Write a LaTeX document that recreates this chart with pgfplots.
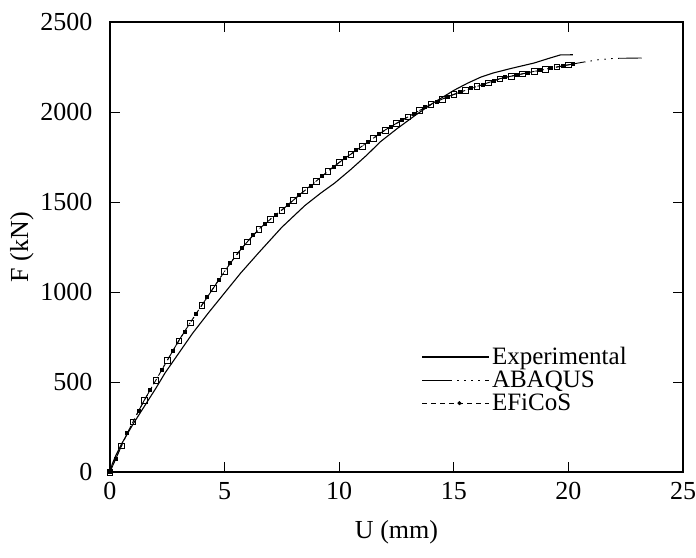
\documentclass[border=0pt]{standalone}
\usepackage{pgfplots}
\pgfplotsset{compat=1.18}
\usepackage{fontspec}
\setmainfont{Liberation Serif}
\begin{document}
\begin{tikzpicture}
\begin{axis}[
  name=ax,
  scale only axis, width=573pt, height=450pt,
  xmin=0, xmax=25, ymin=0, ymax=2500,
  xtick={0,5,...,25}, ytick={0,500,...,2500},
  tick align=inside, major tick length=10pt,
  tick style={line width=0.9pt, black},
  /pgf/number format/assume math mode=true,
  /pgf/number format/set thousands separator={},
  ticklabel style={font=\fontsize{26}{30}\selectfont},
  xticklabel style={yshift=-7pt},
  yticklabel style={xshift=-14pt},
  label style={font=\fontsize{26}{30}\selectfont},
  xlabel={U (mm)}, ylabel={F (kN)},
  xlabel style={yshift=-14pt},
  ylabel style={yshift=0pt},
  axis line style={line width=1.1pt},
  clip=false,
  legend style={draw=none, fill=none, inner sep=0pt, at={(axis cs:13.6,511)}, anchor=west,
    font=\fontsize{25}{30}\selectfont, legend cell align=left, row sep=5pt,
    nodes={inner xsep=2pt, inner ysep=0pt}},
  legend image code/.code={\draw[#1] (0pt,0pt) -- (67pt,0pt);},
]
\addplot[black, line width=1.1pt] coordinates {
(0,0) (0.1,45) (0.23,85) (0.5,155) (1,265) (1.5,365) (2,465) (2.4,550) (3,660) (3.6,770)
(4.3,885) (5,995) (5.7,1105) (6.5,1220) (7.5,1360) (8.5,1480) (9.2,1550) (9.8,1605)
(10.5,1680) (11.2,1760) (11.8,1835) (12.5,1905) (13.3,1980) (14.1,2050) (15,2120)
(15.6,2160) (16.2,2195) (16.7,2216) (17.5,2242) (18.5,2272) (19.2,2300) (19.65,2317) (20.2,2318)};
\addlegendentry{Experimental}
\addplot[black, line width=0.9pt,
  dash pattern=on 30pt off 5pt on 1.5pt off 5.5pt on 1.5pt off 5.5pt on 1.5pt off 5.5pt on 1.5pt off 5.5pt,
  mark=square, mark size=2.8pt, mark options={solid, line width=0.6pt}, mark indices={1,...,41},
  legend image code/.code={\draw[black, line width=0.9pt, dash pattern=on 30pt off 5pt on 1.5pt off 5.5pt on 1.5pt off 5.5pt on 1.5pt off 5.5pt on 1.5pt off 5.5pt] (0pt,0pt) -- (67pt,0pt);}] coordinates {
(0,0) (0.5,145) (1,280) (1.5,400) (2,510) (2.5,620) (3,730) (3.5,830) (4,925) (4.5,1020)
(5,1115) (5.5,1205) (6,1280) (6.5,1350) (7,1405) (7.5,1455) (8,1510) (8.5,1565) (9,1615)
(9.5,1670) (10,1720) (10.5,1765) (11,1810) (11.5,1855) (12,1900) (12.5,1937) (13,1973)
(13.5,2008) (14,2043) (14.5,2072) (15,2098) (15.5,2120) (16,2142) (16.5,2163) (17,2185)
(17.5,2199) (18,2212) (18.5,2225) (19,2238) (19.5,2250) (20,2262)
(20.6,2276) (21.3,2290) (22,2298) (23.2,2300)};
\addlegendentry{ABAQUS}
\addplot[black, line width=0.9pt, dash pattern=on 5pt off 4pt,
  mark=square*, mark size=1.5pt, mark options={solid},
  legend image code/.code={\draw[black, line width=0.9pt, dash pattern=on 5pt off 4pt] (0pt,0pt) -- (67pt,0pt); \fill[black] (37pt,0pt) circle (1.8pt);}] coordinates {
(0,0) (0.25,75) (0.75,215) (1.25,340) (1.75,455) (2.25,565) (2.75,675) (3.25,780) (3.75,878)
(4.25,973) (4.75,1068) (5.25,1160) (5.75,1243) (6.25,1316) (6.75,1378) (7.25,1430) (7.75,1483)
(8.25,1538) (8.75,1590) (9.25,1643) (9.75,1695) (10.25,1743) (10.75,1788) (11.25,1833)
(11.75,1878) (12.25,1919) (12.75,1955) (13.25,1990) (13.75,2026) (14.25,2058) (14.75,2085)
(15.25,2109) (15.75,2131) (16.25,2152) (16.75,2174) (17.25,2192) (17.75,2206) (18.25,2219)
(18.75,2232) (19.25,2244) (19.75,2256) (20.2,2267)};
\addlegendentry{EFiCoS}
\coordinate (ll) at (rel axis cs:0,0);
\end{axis}
\pgfresetboundingbox
\path (ll) ++(-110pt,-85pt) rectangle ++(696pt,557pt);
\end{tikzpicture}
\end{document}
